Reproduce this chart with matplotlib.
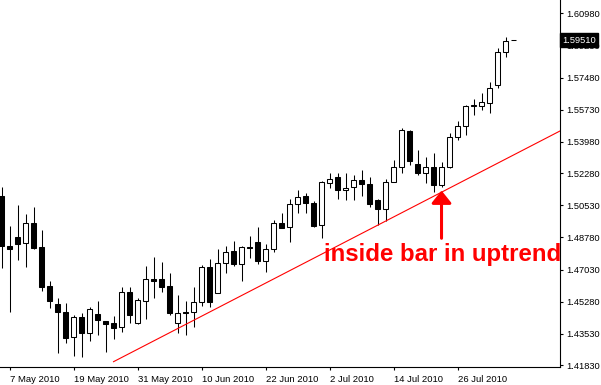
import numpy as np
import pandas as pd
import matplotlib
matplotlib.use("Agg")
import matplotlib.pyplot as plt

# daily OHLC, first bar = 6 May 2010
opens = [1.5105, 1.4831, 1.4880, 1.4846, 1.4955, 1.4826, 1.4613, 1.4515, 1.4472, 1.4334,
         1.4444, 1.4359, 1.4461, 1.4423, 1.4412, 1.4388, 1.4581, 1.4410, 1.4533, 1.4650,
         1.4650, 1.4613, 1.4410, 1.4472, 1.4470, 1.4528, 1.4717, 1.4577, 1.4737, 1.4802,
         1.4731, 1.4826, 1.4851, 1.4751, 1.4813, 1.4955, 1.4932, 1.5058, 1.5102, 1.5065,
         1.4944, 1.5172, 1.5205, 1.5134, 1.5151, 1.5189, 1.5167, 1.5081, 1.5031, 1.5178,
         1.5263, 1.5457, 1.5277, 1.5227, 1.5263, 1.5163, 1.5260, 1.5423, 1.5486, 1.5592,
         1.5595, 1.5608, 1.5708, 1.5886, 1.5951]
highs = [1.5151, 1.4940, 1.5054, 1.5007, 1.5042, 1.4918, 1.4640, 1.4549, 1.4519, 1.4455,
         1.4465, 1.4500, 1.4532, 1.4423, 1.4450, 1.4608, 1.4609, 1.4549, 1.4724, 1.4773,
         1.4744, 1.4682, 1.4563, 1.4532, 1.4608, 1.4726, 1.4760, 1.4813, 1.4833, 1.4858,
         1.4833, 1.4885, 1.4933, 1.4840, 1.4973, 1.5009, 1.5087, 1.5136, 1.5118, 1.5078,
         1.5187, 1.5227, 1.5227, 1.5227, 1.5216, 1.5243, 1.5208, 1.5085, 1.5194, 1.5299,
         1.5472, 1.5463, 1.5354, 1.5314, 1.5336, 1.5290, 1.5448, 1.5509, 1.5597, 1.5631,
         1.5662, 1.5724, 1.5907, 1.5967, 1.5951]
lows = [1.4710, 1.4473, 1.4755, 1.4718, 1.4816, 1.4586, 1.4495, 1.4247, 1.4301, 1.4234,
        1.4228, 1.4315, 1.4346, 1.4255, 1.4326, 1.4364, 1.4410, 1.4406, 1.4434, 1.4549,
        1.4582, 1.4455, 1.4356, 1.4346, 1.4392, 1.4506, 1.4500, 1.4573, 1.4682, 1.4724,
        1.4642, 1.4767, 1.4735, 1.4688, 1.4800, 1.4931, 1.4854, 1.5009, 1.5012, 1.4933,
        1.4873, 1.5148, 1.5089, 1.5081, 1.5081, 1.5103, 1.5045, 1.4945, 1.4969, 1.5177,
        1.5230, 1.5272, 1.5218, 1.5172, 1.5127, 1.5154, 1.5254, 1.5408, 1.5437, 1.5543,
        1.5572, 1.5554, 1.5693, 1.5858, 1.5951]
closes = [1.4833, 1.4816, 1.4844, 1.4956, 1.4818, 1.4609, 1.4533, 1.4473, 1.4332, 1.4444,
          1.4359, 1.4488, 1.4426, 1.4405, 1.4386, 1.4579, 1.4455, 1.4535, 1.4650, 1.4639,
          1.4609, 1.4468, 1.4465, 1.4468, 1.4524, 1.4715, 1.4524, 1.4740, 1.4800, 1.4731,
          1.4824, 1.4818, 1.4749, 1.4813, 1.4955, 1.4931, 1.5058, 1.5099, 1.5063, 1.4940,
          1.5181, 1.5194, 1.5134, 1.5148, 1.5189, 1.5167, 1.5061, 1.5031, 1.5177, 1.5263,
          1.5463, 1.5294, 1.5227, 1.5263, 1.5163, 1.5260, 1.5423, 1.5487, 1.5593, 1.5597,
          1.5613, 1.5690, 1.5886, 1.5949, 1.5951]

date_labels = ['7 May 2010', '19 May 2010', '31 May 2010', '10 Jun 2010',
               '22 Jun 2010', '2 Jul 2010', '14 Jul 2010', '26 Jul 2010']
price_ticks = [1.60980, 1.59230, 1.57480, 1.55730, 1.53980, 1.52280,
               1.50530, 1.48780, 1.47030, 1.45280, 1.43530, 1.41830]
last_price = 1.59510

# trend line end points (bar index, price) and the arrow on the inside bar
trend_x = [14.0, 69.8]
trend_y = [1.4201, 1.5457]
arrow_bar = 55
arrow_tip, arrow_tail = 1.5133, 1.4873
note = 'inside bar in uptrend'

dates = pd.bdate_range('2010-05-06', periods=len(opens))
tick_pos = [dates.get_loc(pd.to_datetime(l, format='%d %b %Y')) for l in date_labels]

o = np.array(opens); h = np.array(highs); l = np.array(lows); c = np.array(closes)
x = np.arange(len(o))

fig = plt.figure(figsize=(6.01, 3.85), dpi=100)
ax = fig.add_axes([0, 17.7 / 385, 560 / 601, 367.3 / 385])

# wicks then bodies
ax.vlines(x, l, h, color='black', lw=0.75, zorder=2)
bottoms = np.minimum(o, c)
heights = np.maximum(np.abs(c - o), 0.00004)
faces = ['white' if cc >= oo else 'black' for oo, cc in zip(o, c)]
ax.bar(x, heights, bottom=bottoms, width=0.55, color=faces, edgecolor='black',
       linewidth=0.75, zorder=3)

ax.plot(trend_x, trend_y, color='red', lw=0.8, zorder=4)
ax.annotate('', xy=(arrow_bar, arrow_tip), xytext=(arrow_bar, arrow_tail),
            arrowprops=dict(arrowstyle='-|>,head_length=0.75,head_width=0.6',
                            color='red', lw=2.2, shrinkA=0, shrinkB=0,
                            mutation_scale=10), zorder=5)
ax.text(40.3, 1.4749, note, color='red', fontsize=17.3, fontweight='bold',
        family='Liberation Sans', ha='left', va='baseline', zorder=5)

ax.set_xlim(-0.19, 69.81)
ax.set_ylim(1.41705, 1.61704)

ax.spines['top'].set_visible(False)
ax.spines['left'].set_visible(False)
ax.spines['right'].set_linewidth(0.8)
ax.spines['bottom'].set_linewidth(0.8)

ax.yaxis.tick_right()
ax.set_yticks(price_ticks)
ax.set_yticklabels(['%.5f' % p for p in price_ticks], family='Liberation Sans', fontsize=6.7)
ax.set_xticks(tick_pos)
ax.set_xticklabels(date_labels, family='Liberation Sans', fontsize=6.8, ha='left')
ax.tick_params(axis='both', length=2.5, width=0.8, direction='out', pad=2)
ax.tick_params(axis='x', pad=3)

# current price box on the price scale
ax.text(1.004, last_price, '%.5f' % last_price, transform=ax.get_yaxis_transform(),
        color='white', fontsize=6.7, family='Liberation Sans', va='center', ha='left',
        bbox=dict(boxstyle='square,pad=0.25', fc='black', ec='black'), zorder=10,
        clip_on=False)

fig.savefig('out.png', dpi=100)
